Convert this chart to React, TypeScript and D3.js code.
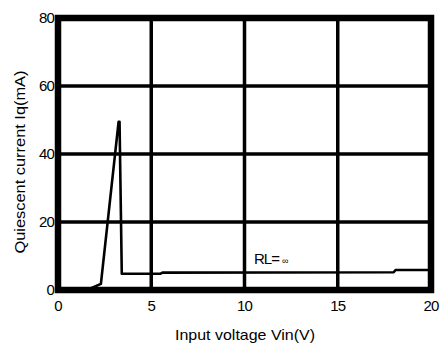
import React from "react";
import * as d3 from "d3";

// Quiescent current vs input voltage (RL = ∞)
const vin = [0, 1.3, 1.8, 2.3, 3.25, 3.3, 3.42, 5.5, 5.6, 18, 18.1, 20];
const iq = [0, 0, 0.6, 1.8, 49.5, 49.5, 4.8, 4.8, 5.1, 5.2, 5.9, 5.9];

const xTicks = [0, 5, 10, 15, 20];
const yTicks = [0, 20, 40, 60, 80];

const W = 441;
const H = 343;
const plot = { left: 58, right: 431, top: 18, bottom: 290 };
const font = "'Liberation Sans', Arial, sans-serif";

export default function App() {
  const x = d3.scaleLinear().domain([0, 20]).range([plot.left, plot.right]);
  const y = d3.scaleLinear().domain([0, 80]).range([plot.bottom, plot.top]);
  const line = d3
    .line<number>()
    .x((_, i) => x(vin[i]))
    .y((d) => y(d));

  return (
    <svg
      width={W}
      height={H}
      style={{ position: "absolute", left: 0, top: 0, background: "#fff" }}
    >
      <rect x={0} y={0} width={W} height={H} fill="#fff" />
      {/* inner grid */}
      {xTicks.slice(1, -1).map((t) => (
        <line key={"gx" + t} x1={x(t)} x2={x(t)} y1={plot.top} y2={plot.bottom} stroke="#000" strokeWidth={3.5} />
      ))}
      {yTicks.slice(1, -1).map((t) => (
        <line key={"gy" + t} x1={plot.left} x2={plot.right} y1={y(t)} y2={y(t)} stroke="#000" strokeWidth={3.5} />
      ))}
      {/* data curve */}
      <path d={line(iq) ?? ""} fill="none" stroke="#000" strokeWidth={2.6} strokeLinejoin="round" />
      {/* frame */}
      <rect
        x={plot.left}
        y={plot.top}
        width={plot.right - plot.left}
        height={plot.bottom - plot.top}
        fill="none"
        stroke="#000"
        strokeWidth={6.5}
      />
      {/* tick labels */}
      {xTicks.map((t) => (
        <text key={"tx" + t} x={x(t)} y={311} textAnchor="middle" fontFamily={font} fontSize={15} letterSpacing={-0.8} fill="#000">
          {t}
        </text>
      ))}
      {yTicks.map((t) => (
        <text key={"ty" + t} x={54} y={y(t) + 5} textAnchor="end" fontFamily={font} fontSize={15} letterSpacing={-0.8} fill="#000">
          {t}
        </text>
      ))}
      {/* axis titles */}
      <text
        x={245}
        y={340}
        textAnchor="middle"
        fontFamily={font}
        fontSize={15}
        textLength={140}
        lengthAdjust="spacingAndGlyphs"
        fill="#000"
      >
        Input voltage Vin(V)
      </text>
      <text
        transform="translate(25,162) rotate(-90)"
        textAnchor="middle"
        fontFamily={font}
        fontSize={15}
        textLength={183}
        lengthAdjust="spacingAndGlyphs"
        fill="#000"
      >
        Quiescent current Iq(mA)
      </text>
      {/* load annotation */}
      <text x={254} y={264} fontFamily={font} fontSize={15} letterSpacing={-1} fill="#000">
        RL=
        <tspan fontSize={9} dx={3}>∞</tspan>
      </text>
    </svg>
  );
}
